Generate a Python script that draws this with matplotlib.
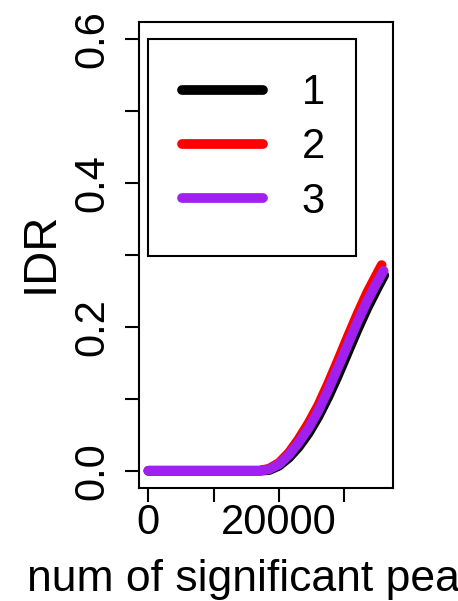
import matplotlib.pyplot as plt

plt.rcParams['font.family'] = ['Liberation Sans', 'DejaVu Sans']

# values
peaks_1 = [0, 17000, 18500, 20000, 21500, 23000, 24500, 26000, 27500, 29000, 30500, 32000, 33500, 35000, 36100]
idr_1 = [0, 0, 0.001, 0.007, 0.018, 0.033, 0.052, 0.075, 0.102, 0.132, 0.164, 0.196, 0.226, 0.253, 0.272]

peaks_2 = [0, 17000, 18500, 20000, 21500, 23000, 24500, 26000, 27500, 29000, 30500, 32000, 33500, 35000, 35700]
idr_2 = [0, 0, 0.003, 0.011, 0.025, 0.044, 0.066, 0.091, 0.121, 0.153, 0.186, 0.218, 0.248, 0.274, 0.286]

peaks_3 = [0, 17000, 18500, 20000, 21500, 23000, 24500, 26000, 27500, 29000, 30500, 32000, 33500, 35000, 36000]
idr_3 = [0, 0, 0.002, 0.009, 0.022, 0.039, 0.059, 0.083, 0.112, 0.143, 0.175, 0.207, 0.236, 0.262, 0.278]

series_labels = ['1', '2', '3']
series_colors = ['black', 'red', '#A020F0']

xticks = [0, 10000, 20000, 30000]
xtick_labels = ['0', '', '20000', '']
yticks = [0.0, 0.1, 0.2, 0.3, 0.4, 0.5, 0.6]
ytick_labels = ['0.0', '', '0.2', '', '0.4', '', '0.6']

fig = plt.figure(figsize=(4.58, 6.01), dpi=100)
ax = fig.add_axes([0.3035, 0.188, 0.5546, 0.7754])

lines = []
for xs, ys, c in zip([peaks_1, peaks_2, peaks_3], [idr_1, idr_2, idr_3], series_colors):
    ln, = ax.plot(xs, ys, color=c, lw=7, solid_capstyle='round', solid_joinstyle='round')
    lines.append(ln)

ax.set_xlim(-1440, 37440)
ax.set_ylim(-0.024, 0.624)
ax.set_xticks(xticks, xtick_labels)
ax.set_yticks(yticks, ytick_labels)
ax.tick_params(length=10, width=1.5, labelsize=30)
ax.tick_params(axis='x', pad=0.5)
ax.tick_params(axis='y', pad=9, labelrotation=90)
for lab in ax.get_yticklabels():
    lab.set_verticalalignment('center')
for sp in ax.spines.values():
    sp.set_linewidth(1.5)

ax.set_xlabel('num of significant peaks', fontsize=32)
ax.xaxis.set_label_coords(0.5, -0.152)
ax.set_ylabel('IDR', fontsize=34)
ax.yaxis.set_label_coords(-0.299, 0.505)

leg = ax.legend(lines, series_labels, loc='upper left', mode='expand',
                bbox_to_anchor=(0.034, 0.5, 0.819, 0.4635), borderaxespad=0,
                fontsize=30, frameon=True, fancybox=False, framealpha=1,
                edgecolor='black', borderpad=0.82, handlelength=1.95,
                handletextpad=0.93, labelspacing=0.34)
leg.get_frame().set_linewidth(1.5)
for h in leg.get_lines():
    h.set_linewidth(7)
    h.set_solid_capstyle('round')

fig.savefig('out.png', dpi=100)
